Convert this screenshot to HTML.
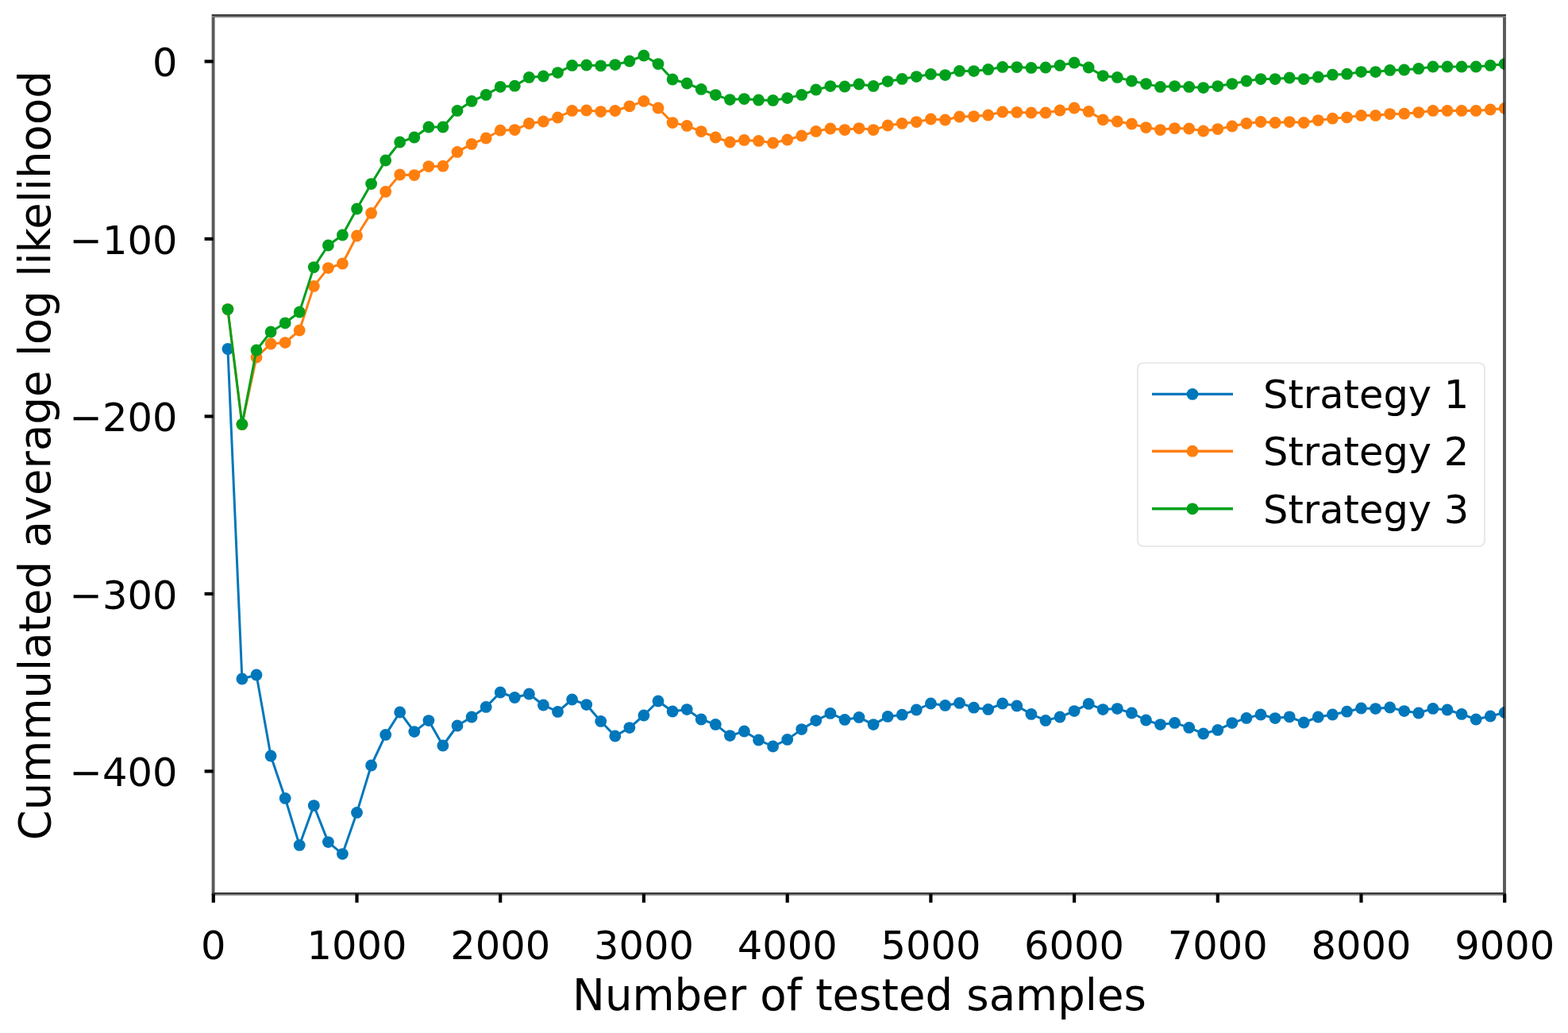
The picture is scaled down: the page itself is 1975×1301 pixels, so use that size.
<!DOCTYPE html>
<html lang="en"><head><meta charset="utf-8"><title>Cummulated average log likelihood</title>
<style>
html,body{margin:0;padding:0;background:#fff;}
body{width:1975px;height:1301px;overflow:hidden;}
svg{display:block;}
text{font-family:"DejaVu Sans","Liberation Sans",sans-serif;fill:#000;}
.tk{font-size:49.5px;}
.lb{font-size:54.5px;}
.lg{font-size:49.5px;}
</style></head><body>
<svg width="1975" height="1301" viewBox="0 0 1975 1301">
<rect width="1975" height="1301" fill="#fff"/>
<defs><clipPath id="ax"><rect x="268.6" y="20.0" width="1626.4" height="1105.8"/></clipPath></defs>
<g clip-path="url(#ax)"><polyline points="286.9,439.4 304.9,855.0 323.0,850.0 341.1,952.0 359.2,1005.4 377.2,1064.4 395.3,1014.6 413.4,1060.6 431.4,1075.6 449.5,1023.4 467.6,964.0 485.7,925.4 503.7,897.0 521.8,921.6 539.9,907.6 557.9,939.0 576.0,914.0 594.1,903.0 612.2,890.4 630.2,872.0 648.3,878.5 666.4,874.0 684.4,888.0 702.5,896.4 720.6,881.0 738.7,887.6 756.7,908.4 774.8,927.0 792.9,916.6 810.9,901.0 829.0,883.0 847.1,896.0 865.2,893.6 883.2,906.0 901.3,912.4 919.4,926.6 937.4,921.0 955.5,932.0 973.6,940.0 991.7,931.4 1009.7,918.6 1027.8,907.6 1045.9,898.4 1064.0,906.4 1082.0,903.4 1100.1,912.6 1118.2,902.4 1136.2,900.2 1154.3,894.0 1172.4,886.0 1190.5,888.4 1208.5,885.4 1226.6,891.2 1244.7,893.4 1262.7,886.0 1280.8,889.0 1298.9,899.4 1317.0,907.4 1335.0,903.0 1353.1,895.6 1371.2,886.4 1389.2,893.6 1407.3,892.6 1425.4,898.0 1443.5,907.0 1461.5,912.6 1479.6,910.4 1497.7,916.4 1515.7,924.0 1533.8,919.4 1551.9,910.6 1570.0,904.4 1588.0,900.0 1606.1,904.6 1624.2,902.8 1642.2,910.0 1660.3,903.0 1678.4,900.0 1696.5,896.2 1714.5,892.0 1732.6,892.6 1750.7,891.0 1768.7,895.6 1786.8,898.0 1804.9,892.4 1823.0,894.0 1841.0,899.4 1859.1,906.0 1877.2,902.0 1895.2,897.4" fill="none" stroke="#0077bb" stroke-width="3.0" stroke-linejoin="round" stroke-linecap="butt"/>
<g fill="#0077bb"><circle cx="286.9" cy="439.4" r="7.4"/><circle cx="304.9" cy="855.0" r="7.4"/><circle cx="323.0" cy="850.0" r="7.4"/><circle cx="341.1" cy="952.0" r="7.4"/><circle cx="359.2" cy="1005.4" r="7.4"/><circle cx="377.2" cy="1064.4" r="7.4"/><circle cx="395.3" cy="1014.6" r="7.4"/><circle cx="413.4" cy="1060.6" r="7.4"/><circle cx="431.4" cy="1075.6" r="7.4"/><circle cx="449.5" cy="1023.4" r="7.4"/><circle cx="467.6" cy="964.0" r="7.4"/><circle cx="485.7" cy="925.4" r="7.4"/><circle cx="503.7" cy="897.0" r="7.4"/><circle cx="521.8" cy="921.6" r="7.4"/><circle cx="539.9" cy="907.6" r="7.4"/><circle cx="557.9" cy="939.0" r="7.4"/><circle cx="576.0" cy="914.0" r="7.4"/><circle cx="594.1" cy="903.0" r="7.4"/><circle cx="612.2" cy="890.4" r="7.4"/><circle cx="630.2" cy="872.0" r="7.4"/><circle cx="648.3" cy="878.5" r="7.4"/><circle cx="666.4" cy="874.0" r="7.4"/><circle cx="684.4" cy="888.0" r="7.4"/><circle cx="702.5" cy="896.4" r="7.4"/><circle cx="720.6" cy="881.0" r="7.4"/><circle cx="738.7" cy="887.6" r="7.4"/><circle cx="756.7" cy="908.4" r="7.4"/><circle cx="774.8" cy="927.0" r="7.4"/><circle cx="792.9" cy="916.6" r="7.4"/><circle cx="810.9" cy="901.0" r="7.4"/><circle cx="829.0" cy="883.0" r="7.4"/><circle cx="847.1" cy="896.0" r="7.4"/><circle cx="865.2" cy="893.6" r="7.4"/><circle cx="883.2" cy="906.0" r="7.4"/><circle cx="901.3" cy="912.4" r="7.4"/><circle cx="919.4" cy="926.6" r="7.4"/><circle cx="937.4" cy="921.0" r="7.4"/><circle cx="955.5" cy="932.0" r="7.4"/><circle cx="973.6" cy="940.0" r="7.4"/><circle cx="991.7" cy="931.4" r="7.4"/><circle cx="1009.7" cy="918.6" r="7.4"/><circle cx="1027.8" cy="907.6" r="7.4"/><circle cx="1045.9" cy="898.4" r="7.4"/><circle cx="1064.0" cy="906.4" r="7.4"/><circle cx="1082.0" cy="903.4" r="7.4"/><circle cx="1100.1" cy="912.6" r="7.4"/><circle cx="1118.2" cy="902.4" r="7.4"/><circle cx="1136.2" cy="900.2" r="7.4"/><circle cx="1154.3" cy="894.0" r="7.4"/><circle cx="1172.4" cy="886.0" r="7.4"/><circle cx="1190.5" cy="888.4" r="7.4"/><circle cx="1208.5" cy="885.4" r="7.4"/><circle cx="1226.6" cy="891.2" r="7.4"/><circle cx="1244.7" cy="893.4" r="7.4"/><circle cx="1262.7" cy="886.0" r="7.4"/><circle cx="1280.8" cy="889.0" r="7.4"/><circle cx="1298.9" cy="899.4" r="7.4"/><circle cx="1317.0" cy="907.4" r="7.4"/><circle cx="1335.0" cy="903.0" r="7.4"/><circle cx="1353.1" cy="895.6" r="7.4"/><circle cx="1371.2" cy="886.4" r="7.4"/><circle cx="1389.2" cy="893.6" r="7.4"/><circle cx="1407.3" cy="892.6" r="7.4"/><circle cx="1425.4" cy="898.0" r="7.4"/><circle cx="1443.5" cy="907.0" r="7.4"/><circle cx="1461.5" cy="912.6" r="7.4"/><circle cx="1479.6" cy="910.4" r="7.4"/><circle cx="1497.7" cy="916.4" r="7.4"/><circle cx="1515.7" cy="924.0" r="7.4"/><circle cx="1533.8" cy="919.4" r="7.4"/><circle cx="1551.9" cy="910.6" r="7.4"/><circle cx="1570.0" cy="904.4" r="7.4"/><circle cx="1588.0" cy="900.0" r="7.4"/><circle cx="1606.1" cy="904.6" r="7.4"/><circle cx="1624.2" cy="902.8" r="7.4"/><circle cx="1642.2" cy="910.0" r="7.4"/><circle cx="1660.3" cy="903.0" r="7.4"/><circle cx="1678.4" cy="900.0" r="7.4"/><circle cx="1696.5" cy="896.2" r="7.4"/><circle cx="1714.5" cy="892.0" r="7.4"/><circle cx="1732.6" cy="892.6" r="7.4"/><circle cx="1750.7" cy="891.0" r="7.4"/><circle cx="1768.7" cy="895.6" r="7.4"/><circle cx="1786.8" cy="898.0" r="7.4"/><circle cx="1804.9" cy="892.4" r="7.4"/><circle cx="1823.0" cy="894.0" r="7.4"/><circle cx="1841.0" cy="899.4" r="7.4"/><circle cx="1859.1" cy="906.0" r="7.4"/><circle cx="1877.2" cy="902.0" r="7.4"/><circle cx="1895.2" cy="897.4" r="7.4"/></g></g>
<g clip-path="url(#ax)"><polyline points="286.9,389.6 304.9,534.4 323.0,450.0 341.1,433.0 359.2,431.6 377.2,416.0 395.3,360.4 413.4,337.6 431.4,332.0 449.5,297.0 467.6,268.4 485.7,241.4 503.7,220.0 521.8,220.6 539.9,209.6 557.9,209.2 576.0,191.4 594.1,181.4 612.2,174.0 630.2,164.2 648.3,163.6 666.4,155.5 684.4,153.0 702.5,148.0 720.6,139.4 738.7,139.0 756.7,140.6 774.8,139.5 792.9,133.8 810.9,127.4 829.0,136.0 847.1,154.6 865.2,158.4 883.2,165.6 901.3,173.0 919.4,179.0 937.4,176.4 955.5,177.4 973.6,180.0 991.7,176.0 1009.7,171.0 1027.8,165.4 1045.9,162.0 1064.0,163.6 1082.0,161.6 1100.1,163.6 1118.2,158.0 1136.2,155.4 1154.3,153.6 1172.4,150.0 1190.5,151.0 1208.5,147.0 1226.6,146.6 1244.7,145.0 1262.7,141.0 1280.8,141.4 1298.9,142.0 1317.0,142.0 1335.0,139.0 1353.1,136.0 1371.2,140.4 1389.2,150.8 1407.3,153.0 1425.4,156.0 1443.5,160.6 1461.5,163.6 1479.6,161.6 1497.7,162.0 1515.7,165.0 1533.8,162.6 1551.9,159.0 1570.0,155.4 1588.0,153.5 1606.1,154.5 1624.2,153.6 1642.2,154.5 1660.3,151.6 1678.4,149.2 1696.5,147.8 1714.5,145.4 1732.6,145.4 1750.7,143.6 1768.7,143.2 1786.8,141.6 1804.9,139.4 1823.0,139.4 1841.0,139.4 1859.1,139.4 1877.2,138.0 1895.2,136.4" fill="none" stroke="#ff7f0e" stroke-width="3.0" stroke-linejoin="round" stroke-linecap="butt"/>
<g fill="#ff7f0e"><circle cx="286.9" cy="389.6" r="7.4"/><circle cx="304.9" cy="534.4" r="7.4"/><circle cx="323.0" cy="450.0" r="7.4"/><circle cx="341.1" cy="433.0" r="7.4"/><circle cx="359.2" cy="431.6" r="7.4"/><circle cx="377.2" cy="416.0" r="7.4"/><circle cx="395.3" cy="360.4" r="7.4"/><circle cx="413.4" cy="337.6" r="7.4"/><circle cx="431.4" cy="332.0" r="7.4"/><circle cx="449.5" cy="297.0" r="7.4"/><circle cx="467.6" cy="268.4" r="7.4"/><circle cx="485.7" cy="241.4" r="7.4"/><circle cx="503.7" cy="220.0" r="7.4"/><circle cx="521.8" cy="220.6" r="7.4"/><circle cx="539.9" cy="209.6" r="7.4"/><circle cx="557.9" cy="209.2" r="7.4"/><circle cx="576.0" cy="191.4" r="7.4"/><circle cx="594.1" cy="181.4" r="7.4"/><circle cx="612.2" cy="174.0" r="7.4"/><circle cx="630.2" cy="164.2" r="7.4"/><circle cx="648.3" cy="163.6" r="7.4"/><circle cx="666.4" cy="155.5" r="7.4"/><circle cx="684.4" cy="153.0" r="7.4"/><circle cx="702.5" cy="148.0" r="7.4"/><circle cx="720.6" cy="139.4" r="7.4"/><circle cx="738.7" cy="139.0" r="7.4"/><circle cx="756.7" cy="140.6" r="7.4"/><circle cx="774.8" cy="139.5" r="7.4"/><circle cx="792.9" cy="133.8" r="7.4"/><circle cx="810.9" cy="127.4" r="7.4"/><circle cx="829.0" cy="136.0" r="7.4"/><circle cx="847.1" cy="154.6" r="7.4"/><circle cx="865.2" cy="158.4" r="7.4"/><circle cx="883.2" cy="165.6" r="7.4"/><circle cx="901.3" cy="173.0" r="7.4"/><circle cx="919.4" cy="179.0" r="7.4"/><circle cx="937.4" cy="176.4" r="7.4"/><circle cx="955.5" cy="177.4" r="7.4"/><circle cx="973.6" cy="180.0" r="7.4"/><circle cx="991.7" cy="176.0" r="7.4"/><circle cx="1009.7" cy="171.0" r="7.4"/><circle cx="1027.8" cy="165.4" r="7.4"/><circle cx="1045.9" cy="162.0" r="7.4"/><circle cx="1064.0" cy="163.6" r="7.4"/><circle cx="1082.0" cy="161.6" r="7.4"/><circle cx="1100.1" cy="163.6" r="7.4"/><circle cx="1118.2" cy="158.0" r="7.4"/><circle cx="1136.2" cy="155.4" r="7.4"/><circle cx="1154.3" cy="153.6" r="7.4"/><circle cx="1172.4" cy="150.0" r="7.4"/><circle cx="1190.5" cy="151.0" r="7.4"/><circle cx="1208.5" cy="147.0" r="7.4"/><circle cx="1226.6" cy="146.6" r="7.4"/><circle cx="1244.7" cy="145.0" r="7.4"/><circle cx="1262.7" cy="141.0" r="7.4"/><circle cx="1280.8" cy="141.4" r="7.4"/><circle cx="1298.9" cy="142.0" r="7.4"/><circle cx="1317.0" cy="142.0" r="7.4"/><circle cx="1335.0" cy="139.0" r="7.4"/><circle cx="1353.1" cy="136.0" r="7.4"/><circle cx="1371.2" cy="140.4" r="7.4"/><circle cx="1389.2" cy="150.8" r="7.4"/><circle cx="1407.3" cy="153.0" r="7.4"/><circle cx="1425.4" cy="156.0" r="7.4"/><circle cx="1443.5" cy="160.6" r="7.4"/><circle cx="1461.5" cy="163.6" r="7.4"/><circle cx="1479.6" cy="161.6" r="7.4"/><circle cx="1497.7" cy="162.0" r="7.4"/><circle cx="1515.7" cy="165.0" r="7.4"/><circle cx="1533.8" cy="162.6" r="7.4"/><circle cx="1551.9" cy="159.0" r="7.4"/><circle cx="1570.0" cy="155.4" r="7.4"/><circle cx="1588.0" cy="153.5" r="7.4"/><circle cx="1606.1" cy="154.5" r="7.4"/><circle cx="1624.2" cy="153.6" r="7.4"/><circle cx="1642.2" cy="154.5" r="7.4"/><circle cx="1660.3" cy="151.6" r="7.4"/><circle cx="1678.4" cy="149.2" r="7.4"/><circle cx="1696.5" cy="147.8" r="7.4"/><circle cx="1714.5" cy="145.4" r="7.4"/><circle cx="1732.6" cy="145.4" r="7.4"/><circle cx="1750.7" cy="143.6" r="7.4"/><circle cx="1768.7" cy="143.2" r="7.4"/><circle cx="1786.8" cy="141.6" r="7.4"/><circle cx="1804.9" cy="139.4" r="7.4"/><circle cx="1823.0" cy="139.4" r="7.4"/><circle cx="1841.0" cy="139.4" r="7.4"/><circle cx="1859.1" cy="139.4" r="7.4"/><circle cx="1877.2" cy="138.0" r="7.4"/><circle cx="1895.2" cy="136.4" r="7.4"/></g></g>
<g clip-path="url(#ax)"><polyline points="286.9,389.6 304.9,534.4 323.0,441.0 341.1,418.0 359.2,406.8 377.2,393.0 395.3,336.6 413.4,309.0 431.4,296.0 449.5,263.0 467.6,231.6 485.7,202.0 503.7,179.0 521.8,173.0 539.9,160.0 557.9,160.0 576.0,139.4 594.1,127.4 612.2,119.4 630.2,109.3 648.3,108.2 666.4,97.4 684.4,96.0 702.5,91.6 720.6,82.4 738.7,82.0 756.7,82.8 774.8,81.6 792.9,77.0 810.9,70.0 829.0,80.6 847.1,100.0 865.2,105.0 883.2,112.4 901.3,119.6 919.4,125.6 937.4,124.6 955.5,126.0 973.6,126.4 991.7,123.6 1009.7,119.4 1027.8,113.0 1045.9,108.6 1064.0,109.0 1082.0,106.0 1100.1,108.4 1118.2,102.6 1136.2,99.4 1154.3,96.6 1172.4,93.4 1190.5,94.6 1208.5,89.4 1226.6,89.6 1244.7,87.4 1262.7,84.4 1280.8,84.6 1298.9,85.4 1317.0,85.0 1335.0,82.4 1353.1,79.0 1371.2,85.0 1389.2,95.6 1407.3,97.4 1425.4,102.0 1443.5,105.6 1461.5,109.4 1479.6,108.6 1497.7,109.4 1515.7,110.6 1533.8,108.6 1551.9,105.6 1570.0,102.0 1588.0,99.6 1606.1,99.6 1624.2,98.0 1642.2,99.6 1660.3,97.0 1678.4,94.2 1696.5,93.2 1714.5,90.6 1732.6,90.6 1750.7,88.4 1768.7,88.0 1786.8,86.4 1804.9,84.0 1823.0,84.0 1841.0,84.0 1859.1,84.0 1877.2,82.4 1895.2,80.6" fill="none" stroke="#00a01c" stroke-width="3.0" stroke-linejoin="round" stroke-linecap="butt"/>
<g fill="#00a01c"><circle cx="286.9" cy="389.6" r="7.4"/><circle cx="304.9" cy="534.4" r="7.4"/><circle cx="323.0" cy="441.0" r="7.4"/><circle cx="341.1" cy="418.0" r="7.4"/><circle cx="359.2" cy="406.8" r="7.4"/><circle cx="377.2" cy="393.0" r="7.4"/><circle cx="395.3" cy="336.6" r="7.4"/><circle cx="413.4" cy="309.0" r="7.4"/><circle cx="431.4" cy="296.0" r="7.4"/><circle cx="449.5" cy="263.0" r="7.4"/><circle cx="467.6" cy="231.6" r="7.4"/><circle cx="485.7" cy="202.0" r="7.4"/><circle cx="503.7" cy="179.0" r="7.4"/><circle cx="521.8" cy="173.0" r="7.4"/><circle cx="539.9" cy="160.0" r="7.4"/><circle cx="557.9" cy="160.0" r="7.4"/><circle cx="576.0" cy="139.4" r="7.4"/><circle cx="594.1" cy="127.4" r="7.4"/><circle cx="612.2" cy="119.4" r="7.4"/><circle cx="630.2" cy="109.3" r="7.4"/><circle cx="648.3" cy="108.2" r="7.4"/><circle cx="666.4" cy="97.4" r="7.4"/><circle cx="684.4" cy="96.0" r="7.4"/><circle cx="702.5" cy="91.6" r="7.4"/><circle cx="720.6" cy="82.4" r="7.4"/><circle cx="738.7" cy="82.0" r="7.4"/><circle cx="756.7" cy="82.8" r="7.4"/><circle cx="774.8" cy="81.6" r="7.4"/><circle cx="792.9" cy="77.0" r="7.4"/><circle cx="810.9" cy="70.0" r="7.4"/><circle cx="829.0" cy="80.6" r="7.4"/><circle cx="847.1" cy="100.0" r="7.4"/><circle cx="865.2" cy="105.0" r="7.4"/><circle cx="883.2" cy="112.4" r="7.4"/><circle cx="901.3" cy="119.6" r="7.4"/><circle cx="919.4" cy="125.6" r="7.4"/><circle cx="937.4" cy="124.6" r="7.4"/><circle cx="955.5" cy="126.0" r="7.4"/><circle cx="973.6" cy="126.4" r="7.4"/><circle cx="991.7" cy="123.6" r="7.4"/><circle cx="1009.7" cy="119.4" r="7.4"/><circle cx="1027.8" cy="113.0" r="7.4"/><circle cx="1045.9" cy="108.6" r="7.4"/><circle cx="1064.0" cy="109.0" r="7.4"/><circle cx="1082.0" cy="106.0" r="7.4"/><circle cx="1100.1" cy="108.4" r="7.4"/><circle cx="1118.2" cy="102.6" r="7.4"/><circle cx="1136.2" cy="99.4" r="7.4"/><circle cx="1154.3" cy="96.6" r="7.4"/><circle cx="1172.4" cy="93.4" r="7.4"/><circle cx="1190.5" cy="94.6" r="7.4"/><circle cx="1208.5" cy="89.4" r="7.4"/><circle cx="1226.6" cy="89.6" r="7.4"/><circle cx="1244.7" cy="87.4" r="7.4"/><circle cx="1262.7" cy="84.4" r="7.4"/><circle cx="1280.8" cy="84.6" r="7.4"/><circle cx="1298.9" cy="85.4" r="7.4"/><circle cx="1317.0" cy="85.0" r="7.4"/><circle cx="1335.0" cy="82.4" r="7.4"/><circle cx="1353.1" cy="79.0" r="7.4"/><circle cx="1371.2" cy="85.0" r="7.4"/><circle cx="1389.2" cy="95.6" r="7.4"/><circle cx="1407.3" cy="97.4" r="7.4"/><circle cx="1425.4" cy="102.0" r="7.4"/><circle cx="1443.5" cy="105.6" r="7.4"/><circle cx="1461.5" cy="109.4" r="7.4"/><circle cx="1479.6" cy="108.6" r="7.4"/><circle cx="1497.7" cy="109.4" r="7.4"/><circle cx="1515.7" cy="110.6" r="7.4"/><circle cx="1533.8" cy="108.6" r="7.4"/><circle cx="1551.9" cy="105.6" r="7.4"/><circle cx="1570.0" cy="102.0" r="7.4"/><circle cx="1588.0" cy="99.6" r="7.4"/><circle cx="1606.1" cy="99.6" r="7.4"/><circle cx="1624.2" cy="98.0" r="7.4"/><circle cx="1642.2" cy="99.6" r="7.4"/><circle cx="1660.3" cy="97.0" r="7.4"/><circle cx="1678.4" cy="94.2" r="7.4"/><circle cx="1696.5" cy="93.2" r="7.4"/><circle cx="1714.5" cy="90.6" r="7.4"/><circle cx="1732.6" cy="90.6" r="7.4"/><circle cx="1750.7" cy="88.4" r="7.4"/><circle cx="1768.7" cy="88.0" r="7.4"/><circle cx="1786.8" cy="86.4" r="7.4"/><circle cx="1804.9" cy="84.0" r="7.4"/><circle cx="1823.0" cy="84.0" r="7.4"/><circle cx="1841.0" cy="84.0" r="7.4"/><circle cx="1859.1" cy="84.0" r="7.4"/><circle cx="1877.2" cy="82.4" r="7.4"/><circle cx="1895.2" cy="80.6" r="7.4"/></g></g>
<g fill="none" stroke-linecap="butt"><line x1="268.6" y1="22" x2="268.6" y2="1124" stroke="#000" stroke-opacity="0.65" stroke-width="3.9"/><line x1="1895.0" y1="22" x2="1895.0" y2="1124" stroke="#000" stroke-opacity="0.65" stroke-width="3.9"/><line x1="266.65000000000003" y1="19.05" x2="1896.95" y2="19.05" stroke="#383838" stroke-width="1.9"/><line x1="266.65000000000003" y1="21.0" x2="1896.95" y2="21.0" stroke="#777777" stroke-width="2"/><line x1="266.65000000000003" y1="1125.0" x2="1896.95" y2="1125.0" stroke="#383838" stroke-width="2"/><line x1="266.65000000000003" y1="1126.85" x2="1896.95" y2="1126.85" stroke="#777777" stroke-width="1.7"/></g>
<g stroke="#000" stroke-width="4.2"><line x1="268.8" y1="1125.8" x2="268.8" y2="1136.8"/><line x1="449.5" y1="1125.8" x2="449.5" y2="1136.8"/><line x1="630.2" y1="1125.8" x2="630.2" y2="1136.8"/><line x1="810.9" y1="1125.8" x2="810.9" y2="1136.8"/><line x1="991.7" y1="1125.8" x2="991.7" y2="1136.8"/><line x1="1172.4" y1="1125.8" x2="1172.4" y2="1136.8"/><line x1="1353.1" y1="1125.8" x2="1353.1" y2="1136.8"/><line x1="1533.8" y1="1125.8" x2="1533.8" y2="1136.8"/><line x1="1714.5" y1="1125.8" x2="1714.5" y2="1136.8"/><line x1="1895.2" y1="1125.8" x2="1895.2" y2="1136.8"/><line x1="268.6" y1="77.4" x2="257.6" y2="77.4"/><line x1="268.6" y1="300.9" x2="257.6" y2="300.9"/><line x1="268.6" y1="524.4" x2="257.6" y2="524.4"/><line x1="268.6" y1="747.9" x2="257.6" y2="747.9"/><line x1="268.6" y1="971.4" x2="257.6" y2="971.4"/></g>
<g class="tk" text-anchor="middle"><text x="268.8" y="1208">0</text><text x="449.5" y="1208">1000</text><text x="630.2" y="1208">2000</text><text x="810.9" y="1208">3000</text><text x="991.7" y="1208">4000</text><text x="1172.4" y="1208">5000</text><text x="1353.1" y="1208">6000</text><text x="1533.8" y="1208">7000</text><text x="1714.5" y="1208">8000</text><text x="1895.2" y="1208">9000</text></g>
<g class="tk" text-anchor="end"><text x="223.5" y="96.4">0</text><text x="223.5" y="319.9">−100</text><text x="223.5" y="543.4">−200</text><text x="223.5" y="766.9">−300</text><text x="223.5" y="990.4">−400</text></g>
<text class="lb" text-anchor="middle" x="1082.5" y="1271.6">Number of tested samples</text>
<text class="lb" text-anchor="middle" transform="translate(62.8,573.7) rotate(-90)">Cummulated average log likelihood</text>
<rect x="1432.9" y="457.3" width="437.1" height="230.7" rx="7" ry="7" fill="#fff" fill-opacity="0.8" stroke="#e9e9e9" stroke-width="2.1"/>
<line x1="1451" y1="496.4" x2="1553" y2="496.4" stroke="#0077bb" stroke-width="3.4"/><circle cx="1502" cy="496.4" r="7.4" fill="#0077bb"/><text class="lg" x="1591" y="514.4">Strategy 1</text>
<line x1="1451" y1="568.2" x2="1553" y2="568.2" stroke="#ff7f0e" stroke-width="3.4"/><circle cx="1502" cy="568.2" r="7.4" fill="#ff7f0e"/><text class="lg" x="1591" y="586.2">Strategy 2</text>
<line x1="1451" y1="640.8" x2="1553" y2="640.8" stroke="#00a01c" stroke-width="3.4"/><circle cx="1502" cy="640.8" r="7.4" fill="#00a01c"/><text class="lg" x="1591" y="658.8">Strategy 3</text>
</svg>
</body></html>
